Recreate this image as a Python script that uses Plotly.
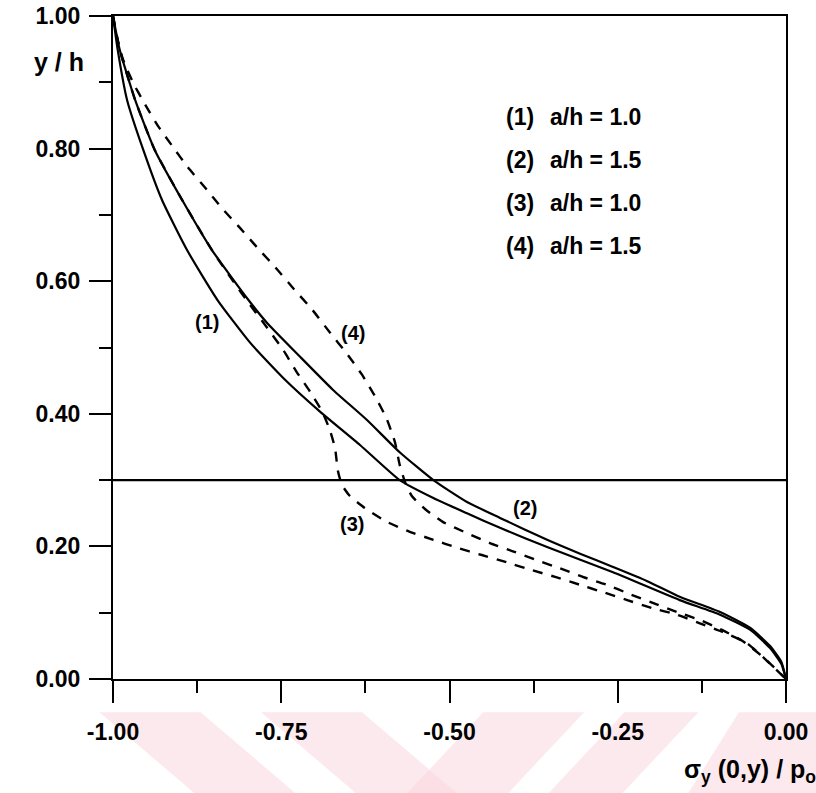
import plotly.graph_objects as go

# ---- data ----
x1 = [-1.000, -0.993, -0.979, -0.955, -0.927, -0.890, -0.845, -0.796, -0.744, -0.692, -0.633, -0.574, -0.524, -0.474, -0.425, -0.355, -0.257, -0.158, -0.098, -0.053, -0.024, -0.007, 0.0]
y1 = [1.000, 0.949, 0.873, 0.798, 0.722, 0.647, 0.572, 0.507, 0.451, 0.403, 0.353, 0.300, 0.273, 0.250, 0.228, 0.199, 0.161, 0.119, 0.097, 0.074, 0.047, 0.023, 0.0]

x2 = [-1.000, -0.990, -0.967, -0.938, -0.897, -0.853, -0.799, -0.771, -0.722, -0.673, -0.623, -0.574, -0.524, -0.474, -0.425, -0.355, -0.306, -0.257, -0.207, -0.158, -0.098, -0.053, -0.024, -0.007, 0.0]
y2 = [1.000, 0.949, 0.873, 0.798, 0.722, 0.647, 0.572, 0.537, 0.486, 0.436, 0.391, 0.342, 0.300, 0.267, 0.243, 0.210, 0.189, 0.169, 0.148, 0.124, 0.101, 0.077, 0.050, 0.026, 0.0]

x3 = [-1.000, -0.990, -0.967, -0.938, -0.897, -0.853, -0.802, -0.774, -0.747, -0.727, -0.707, -0.689, -0.678, -0.670, -0.666, -0.660, -0.648, -0.626, -0.593, -0.559, -0.524, -0.489, -0.452, -0.415, -0.377, -0.343, -0.306, -0.272, -0.236, -0.199, -0.162, -0.128, -0.094, -0.058, -0.031, 0.0]
y3 = [1.000, 0.949, 0.873, 0.798, 0.722, 0.647, 0.572, 0.534, 0.496, 0.463, 0.433, 0.403, 0.376, 0.348, 0.315, 0.293, 0.276, 0.258, 0.237, 0.222, 0.210, 0.198, 0.187, 0.176, 0.164, 0.154, 0.142, 0.131, 0.119, 0.107, 0.097, 0.084, 0.071, 0.054, 0.030, 0.0]

x4 = [-1.000, -0.993, -0.985, -0.970, -0.952, -0.933, -0.912, -0.889, -0.863, -0.838, -0.811, -0.785, -0.758, -0.731, -0.704, -0.678, -0.652, -0.630, -0.611, -0.594, -0.581, -0.574, -0.566, -0.556, -0.536, -0.510, -0.474, -0.440, -0.407, -0.370, -0.336, -0.302, -0.266, -0.232, -0.198, -0.162, -0.128, -0.095, -0.064, -0.034, 0.0]
y4 = [1.000, 0.964, 0.934, 0.899, 0.866, 0.834, 0.804, 0.772, 0.741, 0.710, 0.680, 0.650, 0.620, 0.588, 0.557, 0.523, 0.490, 0.459, 0.427, 0.394, 0.357, 0.323, 0.297, 0.276, 0.256, 0.237, 0.220, 0.205, 0.193, 0.179, 0.167, 0.154, 0.142, 0.128, 0.115, 0.101, 0.089, 0.074, 0.057, 0.033, 0.0]

interface_y = 0.30

legend_ids = ["(1)", "(2)", "(3)", "(4)"]
legend_txt = ["a/h = 1.0", "a/h = 1.5", "a/h = 1.0", "a/h = 1.5"]

curve_label_text = ["(1)", "(2)", "(3)", "(4)"]
curve_label_x = [-0.860, -0.388, -0.645, -0.643]
curve_label_y = [0.538, 0.258, 0.234, 0.522]

x_major = [-1.0, -0.75, -0.5, -0.25, 0.0]
x_major_text = ["-1.00", "-0.75", "-0.50", "-0.25", "0.00"]
x_minor = [-0.875, -0.625, -0.375, -0.125]
y_major = [0.0, 0.2, 0.4, 0.6, 0.8, 1.0]
y_major_text = ["0.00", "0.20", "0.40", "0.60", "0.80", "1.00"]
y_minor = [0.1, 0.3, 0.5, 0.7, 0.9]

FONT = "Liberation Sans, Arial, sans-serif"

fig = go.Figure()
solid = dict(color="black", width=2.2)
dashed = dict(color="black", width=2.4, dash="10px,9px")
fig.add_trace(go.Scatter(x=x1, y=y1, mode="lines", line=dict(shape="spline", smoothing=0.5, **solid), name="(1)"))
fig.add_trace(go.Scatter(x=x2, y=y2, mode="lines", line=dict(shape="spline", smoothing=0.5, **solid), name="(2)"))
fig.add_trace(go.Scatter(x=x3, y=y3, mode="lines", line=dict(shape="spline", smoothing=0.5, **dashed), name="(3)"))
fig.add_trace(go.Scatter(x=x4, y=y4, mode="lines", line=dict(shape="spline", smoothing=0.5, **dashed), name="(4)"))
fig.add_trace(go.Scatter(x=[-1.0, 0.0], y=[interface_y, interface_y], mode="lines",
                         line=dict(color="black", width=2.2), name="interface"))

# watermark-like pink bands at the bottom
pink = "rgba(250,215,222,0.55)"
bands = [
    "M -0.02,-0.05 L 0.13,-0.05 L 0.28,-0.18 L 0.13,-0.18 Z",
    "M 0.22,-0.05 L 0.37,-0.05 L 0.52,-0.18 L 0.37,-0.18 Z",
    "M 0.55,-0.05 L 0.70,-0.05 L 0.58,-0.18 L 0.43,-0.18 Z",
    "M 0.76,-0.05 L 0.87,-0.05 L 0.75,-0.18 L 0.64,-0.18 Z",
    "M 0.93,-0.05 L 1.05,-0.05 L 1.05,-0.18 L 0.85,-0.18 Z",
]
for p in bands:
    fig.add_shape(type="path", path=p, xref="paper", yref="paper", fillcolor=pink,
                  line=dict(width=0), layer="below")

ann = []
lx_id = (504 - 113) / 673
lx_tx = (548 - 113) / 673
for i, (a, b) in enumerate(zip(legend_ids, legend_txt)):
    yy = (679 - (117 + 43 * i)) / 663
    ann.append(dict(x=lx_id, y=yy, xref="paper", yref="paper", text=a, showarrow=False,
                    xanchor="left", yanchor="middle", font=dict(size=23, family=FONT, color="black", weight="bold")))
    ann.append(dict(x=lx_tx, y=yy, xref="paper", yref="paper", text=b, showarrow=False,
                    xanchor="left", yanchor="middle", font=dict(size=23, family=FONT, color="black", weight="bold")))
for t, xx, yy in zip(curve_label_text, curve_label_x, curve_label_y):
    ann.append(dict(x=xx, y=yy, xref="x", yref="y", text=t, showarrow=False,
                    xanchor="center", yanchor="middle", font=dict(size=20, family=FONT, color="black", weight="bold")))
ann.append(dict(x=(86 - 113) / 673, y=(679 - 62) / 663, xref="paper", yref="paper", text="y / h",
                showarrow=False, xanchor="right", yanchor="middle",
                font=dict(size=25, family=FONT, color="black", weight="bold")))
ann.append(dict(x=(682 - 113) / 673, y=(679 - 771) / 663, xref="paper", yref="paper",
                text="σ<sub>y</sub> (0,y) / p<sub>o</sub>", showarrow=False, xanchor="left", yanchor="middle",
                font=dict(size=25, family=FONT, color="black", weight="bold")))

axis_common = dict(showgrid=False, zeroline=False, showline=True, linecolor="black", linewidth=2.2,
                   mirror=True, ticks="outside", ticklen=22, tickwidth=2.2, tickcolor="black",
                   automargin=False, ticklabeloverflow="allow",
                   tickfont=dict(size=23, family=FONT, color="black", weight="bold"))

fig.update_layout(
    width=816, height=793,
    margin=dict(l=113, r=30, t=16, b=114),
    paper_bgcolor="white", plot_bgcolor="white",
    showlegend=False,
    annotations=ann,
    xaxis=dict(range=[-1, 0], tickmode="array", tickvals=x_major, ticktext=x_major_text,
               ticklabelstandoff=9,
               minor=dict(tickmode="array", tickvals=x_minor, ticks="outside", ticklen=12, tickwidth=2.2, tickcolor="black"),
               **axis_common),
    yaxis=dict(range=[0, 1], tickmode="array", tickvals=y_major, ticktext=y_major_text,
               ticklabelstandoff=4,
               minor=dict(tickmode="array", tickvals=y_minor, ticks="outside", ticklen=12, tickwidth=2.2, tickcolor="black"),
               **axis_common),
)

# remove the browser's default 8px page margin so the figure fills the window exactly
fig.write_html("out.html", config={"displayModeBar": False},
               post_script="document.body.style.margin='0';")
